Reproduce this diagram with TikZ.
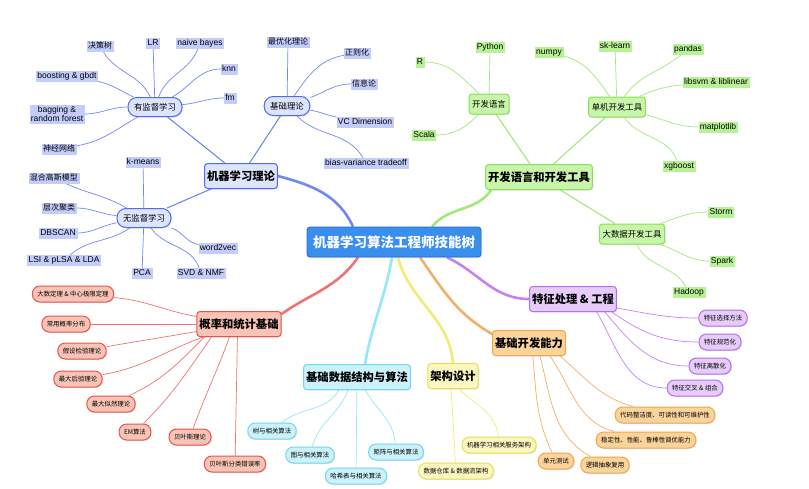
\documentclass[tikz,border=0pt]{standalone}
\usepackage{fontspec}
\setmainfont{Liberation Sans}
\newfontfamily\cjk{Noto Sans CJK SC}
\usetikzlibrary{shadows, backgrounds}
\definecolor{rootfill}{HTML}{3A8EEE}
\definecolor{rootedge}{HTML}{1F6BCB}
\definecolor{blueedge}{HTML}{4F6BF2}
\definecolor{bluefill}{HTML}{DDE4FE}
\definecolor{blueleaf}{HTML}{C3CDFB}
\definecolor{blueline}{HTML}{7089F0}
\definecolor{greenedge}{HTML}{8ADF5C}
\definecolor{greenfill}{HTML}{C9F5AA}
\definecolor{greenleaf}{HTML}{B8F296}
\definecolor{greenline}{HTML}{A4E87A}
\definecolor{rededge}{HTML}{E9534E}
\definecolor{redfill}{HTML}{F9C3B6}
\definecolor{redline}{HTML}{EF7373}
\definecolor{purpleedge}{HTML}{B66EF0}
\definecolor{purplefill}{HTML}{E6CCFB}
\definecolor{purpleline}{HTML}{C582F5}
\definecolor{orangeedge}{HTML}{EFA64E}
\definecolor{orangefill}{HTML}{FBD49C}
\definecolor{orangeline}{HTML}{EFB264}
\definecolor{yellowedge}{HTML}{E6E150}
\definecolor{yellowfill}{HTML}{FBF7C0}
\definecolor{yellowline}{HTML}{F1EC72}
\definecolor{cyanedge}{HTML}{6FD9F4}
\definecolor{cyanfill}{HTML}{CBF1FB}
\definecolor{cyanline}{HTML}{93E7F8}
\tikzset{
  softshadow/.style={drop shadow={opacity=0.2, shadow xshift=1pt, shadow yshift=-1pt}},
  root/.style={draw=rootedge, fill=rootfill, line width=0.8pt, rounded corners=3pt,
    text=white, font=\cjk\bfseries\fontsize{13.5}{16}\selectfont,
    minimum width=174pt, minimum height=30pt, softshadow},
  trunk/.style={draw=#1edge, fill=#1fill, line width=1pt, rounded corners=3pt,
    font=\cjk\bfseries\fontsize{11.3}{13}\selectfont, inner xsep=2.5pt,
    minimum height=25pt, softshadow},
  branch/.style={draw=#1edge, fill=#1fill, line width=1pt, rounded corners=9pt,
    font=\cjk\fontsize{8.4}{10}\selectfont, inner xsep=6pt, minimum height=19pt, softshadow},
  toolbox/.style={draw=#1edge, fill=#1fill, line width=1pt, rounded corners=3pt,
    font=\cjk\fontsize{8.4}{10}\selectfont, inner xsep=3.2pt, minimum height=20pt, softshadow},
  leaf/.style={draw=#1leaf, fill=#1leaf, line width=0.4pt, inner sep=1pt,
    text height=6.2pt, text depth=1.8pt, font=\fontsize{8.5}{9.5}\selectfont},
  cleaf/.style={leaf=#1, font=\cjk\fontsize{8}{9.5}\selectfont},
  tag/.style={draw=#1edge, fill=#1fill, line width=1pt, rounded corners=7.5pt,
    font=\cjk\fontsize{6.4}{8}\selectfont, inner xsep=5pt, minimum height=16pt, softshadow},
  trunkline/.style={draw=#1line, line width=2.6pt},
  limb/.style={draw=#1line, line width=1.1pt},
  twig/.style={draw=#1line, line width=0.7pt}
}

\begin{document}
\begin{tikzpicture}[x=1pt, y=-1pt]
  \useasboundingbox (0,0) rectangle (809,488);
  % centre and main branches
  \node[root] (root) at (394,242) {机器学习算法工程师技能树};
  \node[trunk=blue] (mlt) at (241,176) {机器学习理论};
  \node[trunk=green] (dev) at (539,177) {开发语言和开发工具};
  \node[trunk=purple] (feat) at (573,299) {特征处理 \& 工程};
  \node[trunk=orange] (basic) at (529,343) {基础开发能力};
  \node[trunk=yellow] (arch) at (453,376) {架构设计};
  \node[trunk=cyan] (dsa) at (357,377) {基础数据结构与算法};
  \node[trunk=red] (prob) at (239,324) {概率和统计基础};

  % machine learning theory
  \node[branch=blue] (sup) at (155,107) {有监督学习};
  \node[branch=blue] (theory) at (287,106) {基础理论};
  \node[branch=blue] (unsup) at (144,218) {无监督学习};
  \node[cleaf=blue] (tree) at (100,46) {决策树};
  \node[leaf=blue] (lr) at (153,43) {LR};
  \node[leaf=blue] (nb) at (200,43) {naive bayes};
  \node[leaf=blue] (knn) at (229,69) {knn};
  \node[leaf=blue] (fm) at (230,98) {fm};
  \node[leaf=blue] (boost) at (67,76) {boosting \& gbdt};
  \node[leaf=blue, align=center, text height={}, text depth={}] (bag) at (57,114) {bagging \&\\random forest};
  \node[cleaf=blue] (nn) at (59,149) {神经网络};
  \node[cleaf=blue] (opt) at (288,42) {最优化理论};
  \node[cleaf=blue] (reg) at (357,53) {正则化};
  \node[cleaf=blue] (info) at (364,84) {信息论};
  \node[leaf=blue] (vc) at (365,122) {VC Dimension};
  \node[leaf=blue] (bias) at (366,163) {bias-variance tradeoff};
  \node[leaf=blue] (kmeans) at (143,162) {k-means};
  \node[cleaf=blue] (gmm) at (54,178) {混合高斯模型};
  \node[cleaf=blue] (hier) at (59,208) {层次聚类};
  \node[leaf=blue] (dbscan) at (58,233) {DBSCAN};
  \node[leaf=blue] (lsi) at (64,260) {LSI \& pLSA \& LDA};
  \node[leaf=blue] (pca) at (142,273) {PCA};
  \node[leaf=blue] (svd) at (201,273) {SVD \& NMF};
  \node[leaf=blue] (w2v) at (218,248) {word2vec};

  % languages and tools
  \node[toolbox=green] (lang) at (489,104) {开发语言};
  \node[toolbox=green] (single) at (617,107) {单机开发工具};
  \node[toolbox=green] (bigdata) at (632,234) {大数据开发工具};
  \node[leaf=green] (rlang) at (420,62) {R};
  \node[leaf=green] (python) at (490,47) {Python};
  \node[leaf=green] (scala) at (424,135) {Scala};
  \node[leaf=green] (numpy) at (549,52) {numpy};
  \node[leaf=green] (sklearn) at (615,46) {sk-learn};
  \node[leaf=green] (pandas) at (688,49) {pandas};
  \node[leaf=green] (libsvm) at (716,82) {libsvm \& liblinear};
  \node[leaf=green] (mpl) at (718,127) {matplotlib};
  \node[leaf=green] (xgb) at (679,166) {xgboost};
  \node[leaf=green] (storm) at (721,212) {Storm};
  \node[leaf=green] (spark) at (722,261) {Spark};
  \node[leaf=green] (hadoop) at (689,292) {Hadoop};

  % features
  \node[tag=purple] (fsel) at (723,318) {特征选择方法};
  \node[tag=purple] (fnorm) at (720,342) {特征规范化};
  \node[tag=purple] (fdisc) at (710,366) {特征离散化};
  \node[tag=purple] (fcross) at (695,388) {特征交叉 \& 组合};

  % coding skills
  \node[tag=orange] (clean) at (665,415) {代码整洁度、可读性和可维护性};
  \node[tag=orange] (robust) at (646,440) {稳定性、性能、鲁棒性调优能力};
  \node[tag=orange] (unit) at (556,461) {单元测试};
  \node[tag=orange] (reuse) at (605,465) {逻辑抽象复用};

  % architecture
  \node[tag=yellow] (mlsvc) at (499,445) {机器学习相关服务架构};
  \node[tag=yellow] (dwh) at (456,471) {数据仓库 \& 数据流架构};

  % data structures
  \node[tag=cyan] (treealg) at (272,431) {树与相关算法};
  \node[tag=cyan] (graphalg) at (310,455) {图与相关算法};
  \node[tag=cyan] (hashalg) at (356,476) {哈希表与相关算法};
  \node[tag=cyan] (matalg) at (396,452) {矩阵与相关算法};

  % probability
  \node[tag=red] (lln) at (73,294) {大数定理 \& 中心极限定理};
  \node[tag=red] (dist) at (66,324) {常用概率分布};
  \node[tag=red] (hyp) at (82,351) {假设检验理论};
  \node[tag=red] (map) at (78,379) {最大后验理论};
  \node[tag=red] (mle) at (111,404) {最大似然理论};
  \node[tag=red] (em) at (135,432) {EM算法};
  \node[tag=red] (bayes) at (190,437) {贝叶斯理论};
  \node[tag=red] (bayeserr) at (235,464) {贝叶斯分类错误率};

  \begin{scope}[on background layer]
    \fill[white] (0,0) rectangle (809,488);
    % from the centre
    \draw[trunkline=blue] ([xshift=-41pt]root.north) to[out=115,in=-15] (mlt.east);
    \draw[trunkline=green] ([xshift=38pt]root.north) to[out=50,in=-125] ([xshift=6pt]dev.south west);
    \draw[trunkline=purple] ([xshift=53pt]root.south) to[out=-25,in=180] (feat.west);
    \draw[trunkline=orange] ([xshift=26pt]root.south) to[out=-55,in=150] ([yshift=-4pt]basic.north west);
    \draw[trunkline=yellow] ([xshift=4pt]root.south) to[out=-75,in=95] (arch.north);
    \draw[trunkline=cyan] ([xshift=-2pt]root.south) to[out=-100,in=80] ([xshift=8pt]dsa.north);
    \draw[trunkline=red] ([xshift=-36pt]root.south) to[out=-125,in=35] ([yshift=-3pt]prob.north east);

    \draw[limb=blue] (mlt) -- (sup);
    \draw[limb=blue] (mlt) -- (theory);
    \draw[limb=blue] (mlt) -- (unsup);
    \draw[limb=green] (dev) -- (lang);
    \draw[limb=green] (dev) -- (single);
    \draw[limb=green] (dev) -- (bigdata);

    \draw[twig=blue] (sup) to[out=115,in=-60] (tree);
    \draw[twig=blue] (sup) -- (lr);
    \draw[twig=blue] (sup) to[out=70,in=-110] (nb);
    \draw[twig=blue] (sup) to[out=30,in=180] (knn);
    \draw[twig=blue] (sup) to[out=5,in=180] (fm);
    \draw[twig=blue] (sup) to[out=155,in=-10] (boost);
    \draw[twig=blue] (sup) to[out=180,in=0] (bag);
    \draw[twig=blue] (sup) to[out=210,in=10] (nn);
    \draw[twig=blue] (theory) -- (opt);
    \draw[twig=blue] (theory) to[out=55,in=190] (reg);
    \draw[twig=blue] (theory) to[out=20,in=180] (info);
    \draw[twig=blue] (theory) to[out=-10,in=170] (vc);
    \draw[twig=blue] (theory) to[out=-45,in=120] (bias);
    \draw[twig=blue] (unsup) -- (kmeans);
    \draw[twig=blue] (unsup) to[out=150,in=-25] (gmm);
    \draw[twig=blue] (unsup) to[out=175,in=0] (hier);
    \draw[twig=blue] (unsup) to[out=190,in=0] (dbscan);
    \draw[twig=blue] (unsup) to[out=215,in=40] (lsi);
    \draw[twig=blue] (unsup) -- (pca);
    \draw[twig=blue] (unsup) to[out=-55,in=110] (svd);
    \draw[twig=blue] (unsup) to[out=-20,in=170] (w2v);

    \draw[twig=green] (lang) to[out=135,in=0] (rlang);
    \draw[twig=green] (lang) -- (python);
    \draw[twig=green] (lang) to[out=-135,in=0] (scala);
    \draw[twig=green] (single) to[out=125,in=-15] (numpy);
    \draw[twig=green] (single) -- (sklearn);
    \draw[twig=green] (single) to[out=55,in=220] (pandas);
    \draw[twig=green] (single) to[out=25,in=185] (libsvm);
    \draw[twig=green] (single) to[out=-15,in=180] (mpl);
    \draw[twig=green] (single) to[out=-55,in=110] (xgb);
    \draw[twig=green] (bigdata) to[out=20,in=180] (storm);
    \draw[twig=green] (bigdata) to[out=-20,in=180] (spark);
    \draw[twig=green] (bigdata) to[out=-65,in=120] (hadoop);

    \draw[twig=purple] ([yshift=4pt]feat.south east) to[out=-10,in=180] (fsel);
    \draw[twig=purple] ([xshift=-5pt]feat.south east) to[out=-35,in=180] (fnorm);
    \draw[twig=purple] ([xshift=-12pt]feat.south east) to[out=-50,in=180] (fdisc);
    \draw[twig=purple] ([xshift=-20pt]feat.south east) to[out=-60,in=180] (fcross);

    \draw[twig=orange] ([xshift=-6pt]basic.south east) to[out=-40,in=165] (clean);
    \draw[twig=orange] ([xshift=-16pt]basic.south east) to[out=-55,in=165] (robust);
    \draw[twig=orange] ([xshift=-26pt]basic.south east) to[out=-75,in=150] (reuse);
    \draw[twig=orange] ([xshift=-33pt]basic.south east) to[out=-85,in=115] (unit);

    \draw[twig=yellow] ([xshift=6pt]arch.south) to[out=-45,in=95] (mlsvc);
    \draw[twig=yellow] ([xshift=-2pt]arch.south) -- (dwh);

    \draw[twig=cyan] ([xshift=-18pt]dsa.south) to[out=-120,in=40] (treealg);
    \draw[twig=cyan] ([xshift=-9pt]dsa.south) to[out=-110,in=75] (graphalg);
    \draw[twig=cyan] (dsa) -- (hashalg);
    \draw[twig=cyan] ([xshift=8pt]dsa.south) to[out=-60,in=95] (matalg);

    \draw[twig=red] (prob) to[out=170,in=-5] (lln);
    \draw[twig=red] (prob) -- (dist);
    \draw[twig=red] (prob) to[out=190,in=10] (hyp);
    \draw[twig=red] (prob) to[out=200,in=10] (map);
    \draw[twig=red] ([xshift=8pt]prob.south west) to[out=225,in=25] (mle);
    \draw[twig=red] ([xshift=15pt]prob.south west) to[out=235,in=45] (em);
    \draw[twig=red] ([xshift=33pt]prob.south west) to[out=250,in=70] (bayes);
    \draw[twig=red] ([xshift=41pt]prob.south west) -- (bayeserr);
  \end{scope}
\end{tikzpicture}
\end{document}
